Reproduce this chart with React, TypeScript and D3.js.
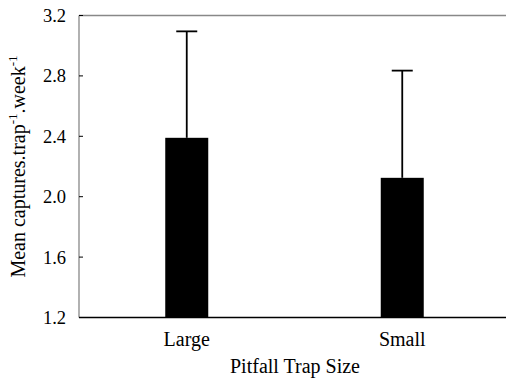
import React from "react";
import * as d3 from "d3";

const categories = ["Large", "Small"];
const means = [2.39, 2.125];
const errTops = [3.095, 2.835];
const yTicks = [1.2, 1.6, 2.0, 2.4, 2.8, 3.2];

export default function App() {
  const W = 506, H = 382;
  const left = 79, top = 15.5, bottom = 317.5, right = 506;
  const y = d3.scaleLinear().domain([1.2, 3.2]).range([bottom, top]);
  const x = d3.scalePoint<string>().domain(categories).range([left, 510]).padding(0.5);
  const barW = 43;
  const capW = 21;
  const ff = "'Liberation Serif', 'DejaVu Serif', serif";
  const tf = (size: number): React.CSSProperties => ({ fontFamily: ff, fontSize: `${size}px` });
  return (
    <svg width={W} height={H} style={{ position: "absolute", left: 0, top: 0, background: "#fff" }}>
      {categories.map((c, i) => {
        const cx = x(c)!;
        return (
          <g key={c}>
            <line x1={cx} x2={cx} y1={y(means[i])} y2={y(errTops[i])} stroke="#000" strokeWidth={1.8} />
            <line x1={cx - capW / 2} x2={cx + capW / 2} y1={y(errTops[i])} y2={y(errTops[i])} stroke="#000" strokeWidth={1.8} />
            <rect x={cx - barW / 2} y={y(means[i])} width={barW} height={bottom - y(means[i])} fill="#000" />
            <text x={cx} y={346} textAnchor="middle" style={tf(20)} fill="#000">{c}</text>
          </g>
        );
      })}
      <line x1={left} x2={right} y1={top} y2={top} stroke="#888" strokeWidth={1.3} />
      <line x1={left} x2={left} y1={top} y2={bottom} stroke="#888" strokeWidth={1.3} />
      <line x1={left} x2={right} y1={bottom} y2={bottom} stroke="#000" strokeWidth={1.5} />
      {yTicks.map((t) => (
        <g key={t}>
          <line x1={left} x2={left + 4} y1={y(t)} y2={y(t)} stroke="#000" strokeWidth={1} />
          <text x={66} y={y(t)} dy="0.35em" textAnchor="end" style={tf(18.5)} fill="#000">{t.toFixed(1)}</text>
        </g>
      ))}
      <text x={295} y={373} textAnchor="middle" style={tf(20)} fill="#000">Pitfall Trap Size</text>
      <text transform={`translate(25, ${(top + bottom) / 2}) rotate(-90)`} textAnchor="middle" style={tf(20)} fill="#000">
        Mean captures.trap<tspan dy={-8} style={{ fontSize: "13px" }}>-1</tspan><tspan dy={8}>.week</tspan><tspan dy={-8} style={{ fontSize: "13px" }}>-1</tspan>
      </text>
    </svg>
  );
}
